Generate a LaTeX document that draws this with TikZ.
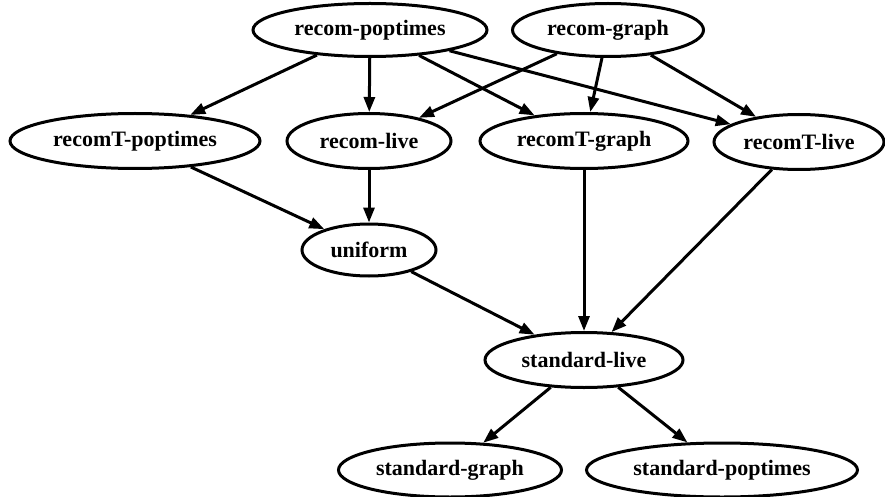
\documentclass[tikz,border=0pt]{standalone}
\usepackage{fontspec}
\setmainfont{Liberation Serif}
\usetikzlibrary{shapes.geometric,arrows.meta}
\tikzset{
  gnode/.style args={#1/#2}{ellipse, draw, line width=3pt, inner sep=0pt,
    minimum width=#1pt, minimum height=#2pt,
    font=\fontsize{22}{26}\selectfont\bfseries},
  edge/.style={line width=3pt, -{Triangle[length=15pt,width=11pt]}},
}
\newcommand{\lbl}[1]{\makebox[0pt]{#1}}
\begin{document}
\begin{tikzpicture}[x=1pt,y=-1pt]
  \useasboundingbox (0,0) rectangle (885,497);
  % sources
  \node[gnode=234/53] (rp) at (370,30) {\lbl{recom-poptimes}};
  \node[gnode=191/53] (rg) at (608,30) {\lbl{recom-graph}};
  % second row
  \node[gnode=250/55] (tp) at (135,141) {\lbl{recomT-poptimes}};
  \node[gnode=164/55] (rl) at (369,141) {\lbl{recom-live}};
  \node[gnode=208/55] (tg) at (584,141) {\lbl{recomT-graph}};
  \node[gnode=170/55] (tl) at (799,142) {\lbl{recomT-live}};
  % middle
  \node[gnode=134/52] (un) at (369,250) {\lbl{uniform}};
  \node[gnode=198/55] (sl) at (584,360) {\lbl{standard-live}};
  % sinks
  \node[gnode=223/54] (sg) at (450,470) {\lbl{standard-graph}};
  \node[gnode=271/54] (sp) at (722,470) {\lbl{standard-poptimes}};
  % edges
  \draw[edge] (rp) -- (tp);
  \draw[edge] (rp) -- (rl);
  \draw[edge] (rp) -- (tg);
  \draw[edge] (rp) -- (tl);
  \draw[edge] (rg) -- (rl);
  \draw[edge] (rg) -- (tg);
  \draw[edge] (rg) -- (tl);
  \draw[edge] (tp) -- (un);
  \draw[edge] (rl) -- (un);
  \draw[edge] (un) -- (sl);
  \draw[edge] (tg) -- (sl);
  \draw[edge] (tl) -- (sl);
  \draw[edge] (sl) -- (sg);
  \draw[edge] (sl) -- (sp);
\end{tikzpicture}
\end{document}
